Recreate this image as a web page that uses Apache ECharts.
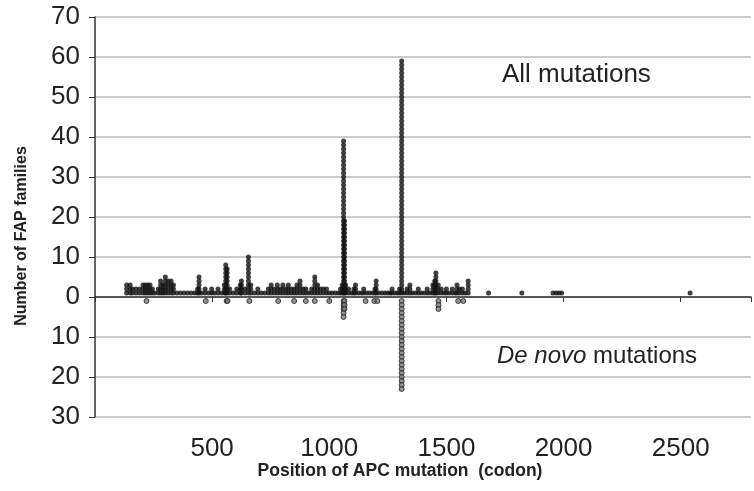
<!DOCTYPE html>
<html>
<head>
<meta charset="utf-8">
<script src="https://cdn.jsdelivr.net/npm/echarts@6/dist/echarts.min.js"></script>
<style>
  html, body { margin: 0; padding: 0; background: #fff; }
  #chart { width: 754px; height: 491px; }
</style>
</head>
<body>
<div id="chart"></div>
<script>
// codon position, number of FAP families (all mutations)
const allCodons = [135, 150, 160, 175, 190, 205, 215, 225, 235, 245, 255, 270, 280, 290, 300, 312, 325, 335,
  350, 365, 380, 395, 410, 425, 438, 444, 455, 470, 485, 498, 510, 525, 540, 552, 558, 564, 575, 590,
  605, 620, 625, 640, 655, 665, 680, 695, 710, 725, 740, 752, 765, 778, 790, 802, 815, 825, 838, 850,
  862, 875, 888, 900, 912, 925, 938, 950, 962, 975, 988, 1000, 1012, 1025, 1037, 1048, 1055, 1061,
  1065, 1070, 1082, 1095, 1105, 1112, 1125, 1138, 1147, 1160, 1172, 1185, 1195, 1200, 1212, 1225,
  1238, 1250, 1260, 1268, 1280, 1292, 1300, 1309, 1320, 1332, 1344, 1355, 1368, 1380, 1392, 1405,
  1418, 1430, 1442, 1450, 1455, 1465, 1478, 1490, 1500, 1512, 1525, 1537, 1545, 1555, 1568, 1580,
  1593, 1680, 1822, 1955, 1968, 1980, 1992, 2540];
const allCounts = [3, 3, 2, 2, 2, 3, 3, 3, 3, 2, 1, 2, 4, 3, 5, 4, 4, 3,
  1, 1, 1, 1, 1, 1, 2, 5, 1, 2, 1, 2, 1, 2, 1, 3, 8, 7, 2, 1,
  2, 3, 4, 2, 10, 3, 1, 2, 1, 1, 2, 3, 2, 3, 2, 3, 2, 3, 2, 2,
  3, 4, 2, 2, 1, 2, 5, 3, 2, 2, 2, 1, 1, 1, 1, 2, 3, 39,
  19, 3, 2, 1, 2, 3, 1, 1, 2, 1, 1, 1, 2, 4, 1, 1,
  1, 1, 1, 2, 1, 1, 2, 59, 1, 2, 3, 1, 1, 2, 1, 1,
  2, 1, 3, 4, 6, 3, 2, 1, 2, 1, 2, 1, 3, 2, 2, 1,
  4, 1, 1, 1, 1, 1, 1, 1];

// codon position, number of de novo mutations
const deNovoCodons = [220, 473, 562, 566, 659, 782, 850, 900, 938, 1000, 1061, 1065, 1155, 1192, 1205, 1309, 1466, 1550, 1572];
const deNovoCounts = [1, 1, 1, 1, 1, 1, 1, 1, 1, 1, 5, 3, 1, 1, 1, 23, 3, 1, 1];

const xTicks = [500, 1000, 1500, 2000, 2500];

// one dot per family, stacked upward (or downward for de novo)
function stack(codons, counts, sign) {
  const pts = [];
  codons.forEach((c, i) => {
    for (let k = 1; k <= counts[i]; k++) {
      pts.push([c, sign * k]);
    }
  });
  return pts;
}

const chart = echarts.init(document.getElementById("chart"));
const font = "'Liberation Sans', Arial, sans-serif";

chart.setOption({
  animation: false,
  grid: { left: 95, top: 17, width: 662, height: 400 },
  xAxis: {
    type: "value",
    min: 0,
    max: 2800,
    interval: 500,
    axisLine: { lineStyle: { color: "#333", width: 1.5 } },
    axisTick: { length: 5, lineStyle: { color: "#333" } },
    splitLine: { show: false },
    axisLabel: {
      fontFamily: font, fontSize: 26, color: "#222", margin: 19,
      formatter: (v) => (xTicks.includes(v) ? String(v) : "")
    }
  },
  yAxis: {
    type: "value",
    min: -30,
    max: 70,
    interval: 10,
    axisLine: { show: true, lineStyle: { color: "#333", width: 1.5 } },
    axisTick: { show: true, length: 6, lineStyle: { color: "#333" } },
    splitLine: { lineStyle: { color: "#bbb", width: 1.5 } },
    axisLabel: {
      fontFamily: font, fontSize: 26, color: "#222", margin: 15,
      formatter: (v) => String(Math.abs(v))
    }
  },
  graphic: [
    {
      type: "text", left: 502, top: 62,
      style: { text: "All mutations", font: "26px " + font, fill: "#222" }
    },
    {
      type: "text", left: 497, top: 344,
      style: {
        text: "{i|De novo} mutations",
        font: "24px " + font, fill: "#222",
        rich: { i: { fontStyle: "italic", fontSize: 24, fontFamily: font } }
      }
    },
    {
      type: "text", x: 22, y: 236, rotation: Math.PI / 2,
      style: {
        text: "Number of FAP families", font: "bold 16px " + font, fill: "#222",
        align: "center", verticalAlign: "middle"
      }
    },
    {
      type: "text", x: 400, y: 471,
      style: {
        text: "Position of APC mutation  (codon)", font: "bold 17.5px " + font, fill: "#222",
        align: "center", verticalAlign: "middle"
      }
    }
  ],
  series: [
    {
      name: "All mutations",
      type: "scatter",
      symbol: "circle",
      symbolSize: 5,
      itemStyle: { color: "#111" },
      data: stack(allCodons, allCounts, 1)
    },
    {
      name: "De novo mutations",
      type: "scatter",
      symbol: "circle",
      symbolSize: 5,
      itemStyle: { color: "#777", borderColor: "#222", borderWidth: 1 },
      data: stack(deNovoCodons, deNovoCounts, -1)
    }
  ]
});
</script>
</body>
</html>
